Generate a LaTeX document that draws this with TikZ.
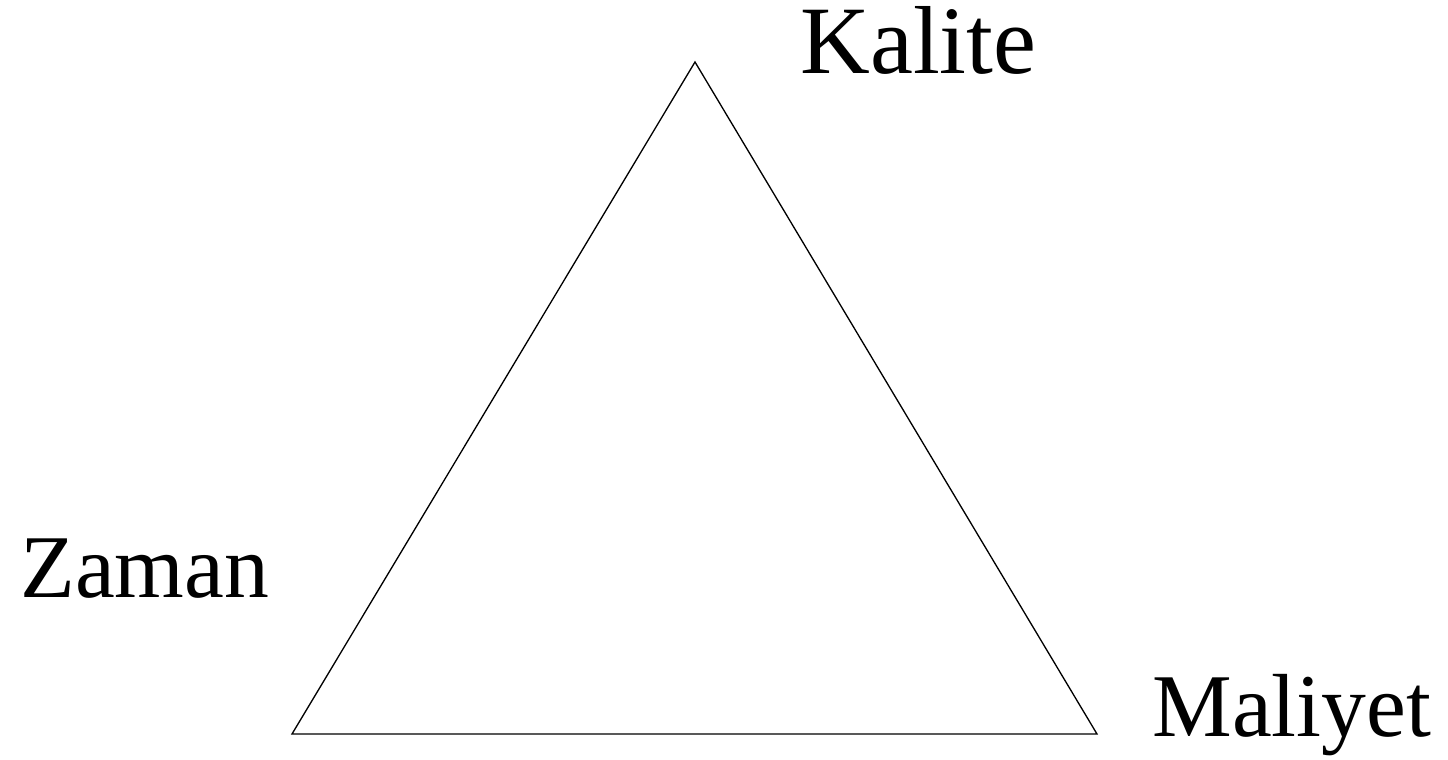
\documentclass[tikz,border=0pt]{standalone}
\usepackage{fontspec}
\setmainfont{Liberation Serif}
\usepackage{tikz}
\usetikzlibrary{calc}

\tikzset{
	corner/.style={inner sep=0pt,anchor=base west,font=\fontsize{51}{60}\selectfont},
	side/.style={line width=0.75pt,line join=miter}
}

\begin{document}
\begin{tikzpicture}[x=0.02cm,y=-0.02cm]
\useasboundingbox (0,0) rectangle (1448,760);

\coordinate (top)   at (695,62);
\coordinate (left)  at (292,734);
\coordinate (right) at (1097,734);

\draw[side] (top) -- (left) -- (right) -- cycle;

\node[corner,font=\fontsize{55}{64}\selectfont] (kalite) at (800,74) {Kalite};
\node[corner] (zaman)   at (20,597)  {Zaman};
\node[corner] (maliyet) at (1152,736) {Maliyet};
\end{tikzpicture}
\end{document}
